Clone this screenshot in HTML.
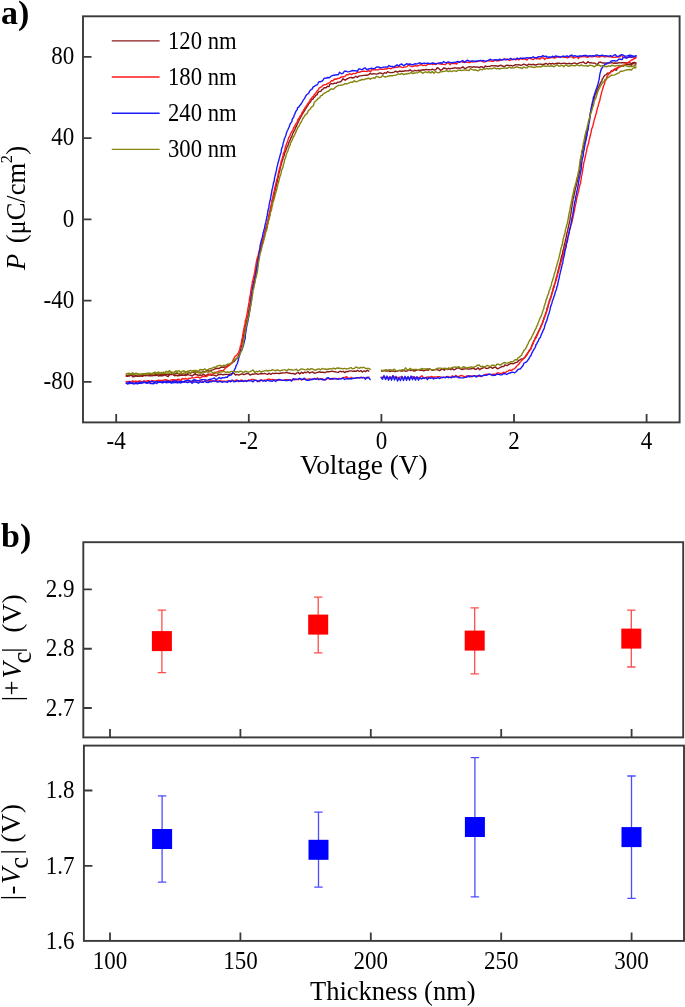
<!DOCTYPE html>
<html><head><meta charset="utf-8"><style>
html,body{margin:0;padding:0;background:#fff;}
svg{display:block;will-change:transform;}
.tl{font-family:"Liberation Serif",serif;font-size:24px;fill:#000;}
.al{font-family:"Liberation Serif",serif;font-size:26.5px;fill:#000;white-space:pre;}
.pl{font-family:"Liberation Serif",serif;font-size:34px;font-weight:bold;fill:#000;}
</style></head><body>
<svg width="685" height="1007" viewBox="0 0 685 1007">
<rect x="0" y="0" width="685" height="1007" fill="#fff"/>
<rect x="83.00" y="16.30" width="596.60" height="406.10" fill="none" stroke="#3a3a3a" stroke-width="1.90"/>
<text transform="translate(74.30,64.10) scale(0.960,1.040)" class="tl" text-anchor="end">80</text>
<text transform="translate(74.30,145.35) scale(0.960,1.040)" class="tl" text-anchor="end">40</text>
<text transform="translate(74.30,226.60) scale(0.960,1.040)" class="tl" text-anchor="end">0</text>
<text transform="translate(74.30,307.85) scale(0.960,1.040)" class="tl" text-anchor="end">-40</text>
<text transform="translate(74.30,389.10) scale(0.960,1.040)" class="tl" text-anchor="end">-80</text>
<text transform="translate(116.20,449.10) scale(0.960,1.040)" class="tl" text-anchor="middle">-4</text>
<text transform="translate(248.80,449.10) scale(0.960,1.040)" class="tl" text-anchor="middle">-2</text>
<text transform="translate(381.40,449.10) scale(0.960,1.040)" class="tl" text-anchor="middle">0</text>
<text transform="translate(514.00,449.10) scale(0.960,1.040)" class="tl" text-anchor="middle">2</text>
<text transform="translate(646.60,449.10) scale(0.960,1.040)" class="tl" text-anchor="middle">4</text>
<path d="M83.00,56.90H91.50M83.00,138.15H91.50M83.00,219.40H91.50M83.00,300.65H91.50M83.00,381.90H91.50M116.20,422.40V413.90M248.80,422.40V413.90M381.40,422.40V413.90M514.00,422.40V413.90M646.60,422.40V413.90" stroke="#3a3a3a" stroke-width="1.80" fill="none"/>
<text transform="translate(300.00,473.80) scale(1.030,1.000)" class="al" text-anchor="start">Voltage (V)</text>
<text transform="translate(24.70,261.90) rotate(-90) scale(1.000,1)" class="al" text-anchor="middle" style="font-size:26.5px;font-style:italic">P</text>
<text transform="translate(24.70,203.15) rotate(-90) scale(1.000,1)" class="al" text-anchor="middle" style="font-size:26.5px;">(μC/cm</text>
<text transform="translate(12.20,159.00) rotate(-90) scale(1.000,1)" class="al" text-anchor="middle" style="font-size:16.5px;">2</text>
<text transform="translate(24.70,150.45) rotate(-90) scale(1.000,1)" class="al" text-anchor="middle" style="font-size:26.5px;">)</text>
<text transform="translate(1.00,23.50) scale(1.000,1.000)" class="pl" text-anchor="start">a)</text>
<text transform="translate(1.00,546.50) scale(1.000,1.000)" class="pl" text-anchor="start">b)</text>
<path d="M111.8,40.85H159.6" stroke="#8a1a1a" stroke-width="1.4"/>
<text transform="translate(168.00,48.75) scale(0.945,1.040)" class="tl" text-anchor="start">120 nm</text>
<path d="M111.8,77.00H159.6" stroke="#ff1a1a" stroke-width="1.4"/>
<text transform="translate(168.00,84.90) scale(0.945,1.040)" class="tl" text-anchor="start">180 nm</text>
<path d="M111.8,113.30H159.6" stroke="#1a1aff" stroke-width="1.4"/>
<text transform="translate(168.00,121.20) scale(0.945,1.040)" class="tl" text-anchor="start">240 nm</text>
<path d="M111.8,149.40H159.6" stroke="#84840f" stroke-width="1.4"/>
<text transform="translate(168.00,157.30) scale(0.945,1.040)" class="tl" text-anchor="start">300 nm</text>
<g fill="none" stroke-width="1.4" stroke-linejoin="round" stroke-linecap="round">
<path d="M636.0,63.0L634.4,62.5L632.8,62.8L631.2,63.7L629.6,62.5L628.0,62.7L626.4,63.3L624.8,62.6L623.2,62.8L621.6,62.8L620.0,62.9L618.4,62.6L616.8,63.3L615.2,63.0L613.5,63.2L611.9,62.6L610.3,62.9L608.7,63.0L607.1,63.3L605.5,63.0L603.9,62.9L602.3,63.0L600.7,62.1L599.1,62.3L597.5,64.3L595.9,63.9L594.3,63.0L592.7,63.1L591.1,62.8L589.5,62.8L587.9,61.7L586.3,63.5L584.7,63.1L583.1,61.8L581.5,62.6L579.9,62.6L578.3,63.3L576.7,64.0L575.1,63.0L573.5,63.1L571.9,63.8L570.3,63.6L568.7,63.3L567.1,63.8L565.4,63.4L563.8,63.3L562.2,63.4L560.6,63.7L559.0,63.2L557.4,63.1L555.8,63.4L554.2,64.1L552.6,63.3L551.0,64.0L549.4,63.3L547.8,64.5L546.2,63.4L544.6,64.0L543.0,64.7L541.4,64.3L539.8,64.1L538.2,64.1L536.6,64.8L535.0,65.0L533.4,64.3L531.8,64.7L530.2,64.4L528.6,64.2L527.0,65.6L525.4,64.6L523.7,64.1L522.2,65.0L520.6,65.4L518.9,64.6L517.4,64.9L515.7,64.6L514.2,65.4L512.6,66.1L511.0,65.4L509.4,65.7L507.7,65.1L506.1,65.4L504.6,66.5L503.0,66.3L501.3,65.3L499.7,65.5L498.2,66.3L496.5,66.0L494.9,65.8L493.3,65.9L491.7,65.7L490.1,66.2L488.5,66.4L486.9,66.6L485.3,66.0L483.8,67.9L482.1,66.8L480.5,66.8L479.0,67.7L477.3,66.8L475.7,67.4L474.1,66.7L472.5,67.3L470.9,66.9L469.3,66.7L467.7,67.3L466.1,68.1L464.6,68.5L462.9,66.8L461.3,67.9L459.7,68.3L458.1,67.9L456.5,68.2L454.9,67.7L453.3,68.3L451.7,68.4L450.1,68.8L448.5,68.3L446.9,69.2L445.3,68.3L443.6,68.0L442.1,69.7L440.6,70.3L438.9,68.7L437.2,67.7L435.7,69.8L434.1,70.0L432.5,69.1L430.9,69.9L429.3,69.8L427.7,69.8L426.1,69.4L424.5,70.0L422.9,69.8L421.3,70.1L419.7,70.5L418.1,70.3L416.5,70.8L414.9,70.3L413.3,71.1L411.7,71.1L410.0,69.8L408.5,70.8L406.9,70.9L405.2,70.7L403.7,71.3L402.1,71.3L400.4,71.1L398.9,71.3L397.3,72.2L395.6,71.2L394.1,72.1L392.5,72.5L390.9,72.6L389.3,72.5L387.6,71.6L386.2,73.2L384.5,72.7L383.0,74.1L381.3,73.2L379.7,72.9L378.1,73.7L376.6,74.1L374.9,73.9L373.3,73.8L371.7,74.1L370.0,73.5L368.6,74.7L367.0,75.3L365.4,75.3L363.8,75.4L362.2,75.6L360.6,75.9L359.0,76.0L357.6,77.3L355.8,76.3L354.4,77.3L352.9,78.0L351.1,77.5L349.5,77.6L348.1,78.5L346.6,79.1L345.2,80.2L343.1,78.8L341.9,80.3L340.7,81.7L339.1,82.1L337.5,82.2L336.2,83.4L334.4,83.1L333.0,83.9L331.2,83.6L329.7,84.4L329.1,86.6L327.1,86.3L326.1,87.8L324.1,87.7L323.1,89.0L321.7,89.9L320.8,91.3L319.0,91.6L317.8,92.7L317.3,94.6L315.8,95.4L315.0,96.7L313.7,97.8L312.9,99.2L311.2,99.9L310.8,101.6L309.7,102.8L308.6,103.9L307.9,105.4L306.9,106.7L306.1,108.1L305.2,109.4L304.5,110.9L303.6,112.2L302.7,113.5L302.0,114.9L301.2,116.3L300.5,117.8L299.6,119.1L299.0,120.6L298.3,122.0L297.6,123.5L296.9,125.0L296.3,126.5L295.4,127.8L295.0,129.3L294.2,130.8L293.4,132.2L292.7,133.6L292.2,135.1L291.8,136.7L290.8,138.0L290.2,139.5L289.8,141.1L288.8,142.4L288.4,144.0L287.9,145.5L287.1,146.9L286.6,148.4L285.9,149.9L285.6,151.5L284.6,152.8L284.4,154.5L284.0,156.0L283.2,157.4L282.9,159.0L282.3,160.5L281.9,162.1L281.5,163.6L281.0,165.1L280.7,166.7L280.1,168.2L279.9,169.8L279.6,171.4L279.1,172.9L278.7,174.5L278.4,176.1L278.1,177.6L277.6,179.2L277.5,180.8L277.1,182.3L276.6,183.9L276.4,185.5L275.9,187.0L275.5,188.6L275.1,190.1L274.9,191.7L274.5,193.3L274.1,194.8L274.0,196.5L273.1,197.9L273.2,199.6L272.8,201.1L272.3,202.7L272.1,204.2L271.9,205.8L271.3,207.4L271.0,208.9L270.7,210.5L270.4,212.1L269.9,213.6L269.7,215.2L269.2,216.7L268.8,218.3L268.6,219.9L268.3,221.5L267.7,223.0L267.4,224.6L266.8,226.1L266.5,227.6L266.1,229.2L265.7,230.7L265.3,232.3L265.0,233.9L264.4,235.4L263.8,236.9L263.6,238.5L263.2,240.0L262.7,241.6L262.3,243.1L261.9,244.7L261.4,246.2L261.0,247.7L260.4,249.2L260.1,250.8L259.6,252.4L259.1,253.9L258.9,255.5L258.3,257.0L258.1,258.6L257.8,260.2L257.5,261.7L257.1,263.3L257.0,264.9L256.5,266.4L256.4,268.0L255.8,269.6L255.7,271.2L255.4,272.8L255.2,274.3L254.8,275.9L254.5,277.5L254.3,279.1L254.0,280.6L253.6,282.2L253.4,283.8L252.9,285.3L252.6,286.9L252.5,288.5L252.1,290.1L252.0,291.7L251.6,293.3L251.4,294.9L251.1,296.4L250.8,298.0L250.9,299.6L250.4,301.2L250.3,302.8L249.9,304.4L249.8,306.0L249.5,307.5L249.1,309.1L248.8,310.7L248.5,312.3L248.3,313.8L248.0,315.4L247.5,316.9L247.2,318.5L247.0,320.1L246.4,321.6L246.1,323.2L245.7,324.8L245.5,326.4L245.0,327.9L244.9,329.5L244.4,331.1L244.2,332.6L243.8,334.2L243.5,335.8L243.3,337.4L243.0,338.9L242.7,340.5L242.2,342.1L242.0,343.6L241.8,345.3L241.3,346.8L240.9,348.3L240.4,349.9L240.4,351.5L239.8,353.0L238.9,354.4L238.6,356.0L237.7,357.4L236.5,358.5L235.4,359.6L234.6,361.1L233.2,362.0L232.1,363.1L230.5,363.6L229.4,364.9L227.8,365.3L226.7,366.8L225.1,367.0L223.5,367.3L221.8,367.0L220.3,367.6L218.9,368.6L217.2,368.3L215.6,368.6L214.1,369.4L212.6,369.9L211.0,370.2L209.6,371.3L207.8,370.7L206.3,370.9L204.8,371.8L203.1,371.2L201.6,372.5L200.0,372.3L198.4,372.5L196.6,371.3L195.3,373.4L193.5,372.4L191.9,372.4L190.4,372.8L188.7,372.5L187.2,373.8L185.7,374.7L183.9,373.1L182.4,374.3L180.8,373.9L179.2,374.5L177.5,373.4L175.9,373.6L174.4,374.5L172.7,373.7L171.2,374.2L169.6,374.4L168.0,374.4L166.4,374.6L164.7,374.2L163.2,374.4L161.6,374.9L159.9,374.2L158.4,375.1L156.7,374.7L155.1,374.7L153.5,374.2L152.0,375.3L150.3,374.1L148.7,375.1L147.1,375.3L145.5,375.6L143.9,375.0L142.3,375.4L140.7,376.1L139.1,376.1L137.5,375.9L135.9,376.0L134.3,375.1L132.7,375.0L131.1,375.3L129.5,375.7L127.9,376.2L126.3,376.0" stroke="#8a1a1a"/>
<path d="M126.3,376.0L127.9,375.7L129.5,375.7L131.1,374.6L132.7,376.9L134.3,376.5L135.9,375.7L137.6,376.3L139.2,376.0L140.8,375.5L142.4,376.3L144.0,375.6L145.6,375.5L147.2,375.3L148.8,375.9L150.4,375.6L152.0,375.9L153.6,375.3L155.2,375.6L156.8,375.1L158.4,376.0L160.0,375.6L161.6,375.7L163.2,375.7L164.8,374.9L166.5,375.8L168.1,376.5L169.7,374.5L171.3,374.4L172.9,374.5L174.5,375.8L176.1,375.3L177.7,375.8L179.3,375.6L180.9,375.3L182.5,375.3L184.1,375.1L185.7,375.6L187.3,374.5L188.9,374.9L190.6,375.2L192.2,376.0L193.8,374.6L195.4,374.4L197.0,374.7L198.6,375.5L200.2,374.8L201.8,375.6L203.4,373.9L205.0,375.5L206.6,375.4L208.2,374.0L209.8,374.9L211.4,375.4L213.0,374.8L214.7,375.3L216.3,376.0L217.9,374.8L219.5,374.5L221.1,374.2L222.7,374.9L224.3,374.5L225.9,374.4L227.5,374.4L229.1,374.8L230.7,373.9L232.3,373.6L233.9,373.1L235.5,375.0L237.1,374.4L238.8,375.1L240.4,374.3L242.0,373.8L243.6,374.5L245.2,374.2L246.8,373.5L248.4,373.6L250.0,375.1L251.6,374.3L253.2,374.3L254.8,373.9L256.4,373.6L258.0,374.4L259.6,373.9L261.2,373.5L262.8,373.8L264.4,373.3L266.1,373.9L267.7,374.3L269.3,373.2L270.9,374.4L272.5,373.2L274.1,373.7L275.7,373.1L277.3,373.4L278.9,373.5L280.5,373.2L282.1,373.0L283.7,372.9L285.3,372.8L286.9,372.4L288.5,373.0L290.1,373.3L291.8,373.6L293.4,373.4L295.0,374.3L296.6,373.1L298.2,372.6L299.8,373.9L301.4,372.2L303.0,373.3L304.6,372.2L306.2,372.8L307.8,371.5L309.4,373.0L311.0,372.4L312.6,371.9L314.3,373.3L315.8,372.8L317.4,372.3L319.0,371.8L320.7,372.2L322.3,372.1L323.9,372.5L325.5,372.5L327.1,371.6L328.7,371.7L330.3,371.6L331.9,371.1L333.5,371.5L335.1,371.7L336.7,372.1L338.3,372.4L339.9,371.2L341.5,371.9L343.1,371.3L344.8,372.6L346.3,371.4L348.0,371.7L349.5,370.9L351.2,370.9L352.8,371.4L354.4,371.0L356.0,371.4L357.6,370.3L359.2,371.5L360.8,370.6L362.4,372.0L364.0,370.9L365.6,371.6L367.2,370.2L368.8,371.2" stroke="#8a1a1a"/>
<path d="M381.7,371.2L383.3,370.5L384.9,370.8L386.5,371.1L388.1,370.0L389.7,371.6L391.3,371.0L392.9,370.9L394.5,371.6L396.1,371.4L397.7,371.1L399.3,370.4L401.0,371.0L402.6,371.0L404.1,370.3L405.8,371.3L407.4,370.9L408.9,369.5L410.6,370.6L412.2,369.8L413.8,371.1L415.4,370.8L417.0,369.7L418.6,369.8L420.2,370.3L421.8,370.0L423.5,370.9L425.1,370.4L426.6,369.8L428.3,370.2L429.8,368.8L431.5,370.0L433.1,370.2L434.7,369.6L436.3,369.3L437.9,369.9L439.5,370.6L441.1,369.6L442.7,368.8L444.3,370.2L445.9,368.3L447.5,369.5L449.1,368.9L450.7,369.7L452.3,368.7L454.0,369.8L455.5,369.2L457.1,368.1L458.7,367.9L460.4,368.8L462.0,369.6L463.6,369.0L465.2,368.9L466.8,368.7L468.4,369.2L470.0,368.9L471.6,368.8L473.2,368.1L474.8,369.2L476.4,369.2L478.0,367.7L479.7,369.7L481.3,368.7L482.8,368.0L484.4,367.2L486.1,368.5L487.7,368.4L489.2,367.7L490.8,366.9L492.5,368.4L494.0,367.4L495.6,367.3L497.5,368.9L499.0,368.2L500.5,367.4L502.0,366.4L503.7,366.6L504.9,364.8L506.7,365.6L508.2,364.8L509.6,364.1L511.1,363.4L513.0,363.9L514.4,363.1L515.9,362.5L517.5,362.1L518.6,360.7L520.0,359.9L521.3,359.0L522.9,358.7L524.5,358.1L525.4,356.7L526.6,355.6L527.1,354.0L528.1,352.7L528.8,351.3L529.5,349.9L530.8,348.7L531.3,347.2L531.8,345.6L532.4,344.1L533.2,342.7L533.6,341.1L534.6,339.8L535.0,338.2L535.9,336.9L536.5,335.4L537.4,334.0L538.0,332.5L538.6,331.1L539.4,329.7L540.0,328.2L540.7,326.7L541.3,325.3L542.1,323.8L542.6,322.3L543.0,320.7L543.7,319.3L544.0,317.7L544.9,316.3L545.3,314.7L545.6,313.1L546.3,311.7L546.9,310.2L546.9,308.5L547.6,307.1L548.1,305.5L548.4,303.9L548.9,302.4L549.3,300.9L550.0,299.4L550.4,297.8L551.2,296.4L551.4,294.8L552.0,293.3L552.4,291.7L552.9,290.2L553.2,288.6L553.5,287.0L554.1,285.5L554.7,284.0L555.2,282.5L555.5,280.9L555.9,279.3L556.2,277.8L556.8,276.3L557.2,274.7L557.4,273.1L557.9,271.6L558.2,270.0L558.8,268.5L559.1,266.9L559.4,265.3L559.9,263.8L560.3,262.2L560.6,260.6L560.9,259.1L561.3,257.5L561.6,255.9L562.2,254.4L562.8,252.9L562.7,251.2L563.3,249.7L563.7,248.2L563.9,246.6L564.4,245.0L564.6,243.4L565.2,241.9L565.4,240.3L565.8,238.8L566.2,237.2L566.4,235.6L566.7,234.0L567.1,232.5L567.6,230.9L567.9,229.4L568.2,227.8L568.5,226.2L568.9,224.6L569.3,223.1L569.5,221.5L570.0,219.9L570.1,218.3L570.3,216.7L570.5,215.1L571.0,213.6L571.1,212.0L571.4,210.4L571.6,208.8L571.9,207.2L572.1,205.6L572.2,204.0L572.6,202.5L572.9,200.9L573.0,199.3L573.6,197.8L573.9,196.2L574.2,194.6L574.5,193.0L574.9,191.5L575.1,189.9L575.6,188.3L575.9,186.8L576.4,185.2L576.7,183.6L577.1,182.1L577.6,180.5L577.7,178.9L578.3,177.4L578.4,175.8L578.7,174.2L579.3,172.7L579.6,171.1L579.9,169.5L579.9,167.9L580.2,166.3L580.3,164.7L580.5,163.1L580.6,161.5L580.9,159.9L581.0,158.3L581.3,156.8L581.6,155.2L582.1,153.6L582.2,152.0L582.6,150.5L583.0,148.9L583.5,147.4L583.7,145.8L584.1,144.2L584.3,142.6L584.9,141.1L585.1,139.5L585.6,138.0L585.8,136.4L586.1,134.8L586.4,133.2L586.7,131.6L587.1,130.1L587.6,128.5L587.9,127.0L588.0,125.3L588.6,123.8L588.8,122.2L589.0,120.6L589.4,119.1L589.7,117.5L589.9,115.9L590.1,114.3L590.6,112.8L590.9,111.2L591.0,109.5L591.6,108.0L592.0,106.5L592.2,104.9L592.7,103.3L593.1,101.8L593.4,100.2L594.0,98.7L594.7,97.2L594.8,95.6L595.6,94.2L596.2,92.7L596.7,91.1L597.3,89.7L597.8,88.1L598.6,86.7L599.4,85.3L600.1,83.9L600.6,82.3L601.9,81.2L602.1,79.5L603.0,78.1L603.8,76.7L604.7,75.4L606.3,74.7L607.2,73.3L608.9,73.1L610.3,72.4L611.3,70.8L613.2,70.9L614.3,69.5L616.4,70.3L617.3,68.4L618.7,67.5L620.0,66.5L621.7,66.2L623.3,66.0L624.8,65.3L626.3,64.7L627.9,64.6L629.6,64.5L631.3,65.2L632.7,63.4L634.4,63.9L636.0,64.1" stroke="#8a1a1a"/>
<path d="M636.0,57.0L634.4,58.4L632.8,56.8L631.2,57.3L629.6,57.2L628.0,57.1L626.4,58.1L624.8,57.1L623.2,57.4L621.6,55.1L620.0,56.8L618.4,57.1L616.8,57.0L615.1,57.2L613.5,57.4L611.9,57.0L610.3,56.5L608.7,56.9L607.1,56.3L605.5,56.9L603.9,56.8L602.3,55.9L600.7,56.5L599.1,57.0L597.5,56.9L595.9,56.5L594.3,55.7L592.7,56.9L591.1,56.9L589.5,56.2L587.9,57.3L586.3,57.0L584.7,56.3L583.1,56.5L581.5,56.8L579.9,56.5L578.3,58.5L576.7,56.4L575.1,57.5L573.5,58.0L571.8,56.9L570.2,56.7L568.7,57.4L567.1,57.8L565.4,57.3L563.8,57.3L562.2,56.6L560.6,57.0L559.0,57.4L557.4,56.9L555.8,57.7L554.2,58.2L552.6,57.4L551.0,57.5L549.4,58.0L547.8,58.3L546.2,57.8L544.7,59.4L543.0,57.7L541.4,57.9L539.8,59.1L538.2,58.3L536.6,58.9L535.0,58.0L533.4,59.6L531.8,59.1L530.2,58.3L528.6,58.1L527.0,60.0L525.4,59.2L523.8,58.8L522.2,59.4L520.5,58.3L519.0,59.9L517.4,59.1L515.8,60.0L514.1,58.7L512.6,59.6L511.0,59.8L509.4,60.6L507.7,58.9L506.1,59.5L504.5,59.5L502.9,59.4L501.3,59.9L499.8,60.6L498.2,60.8L496.6,60.9L494.9,59.8L493.4,61.4L491.8,61.0L490.2,61.0L488.5,60.8L486.9,60.7L485.4,61.8L483.8,62.1L482.1,61.3L480.5,60.7L478.9,61.1L477.3,61.5L475.8,61.9L474.1,61.6L472.6,62.0L470.9,61.6L469.4,62.6L467.7,62.2L466.1,62.4L464.5,62.1L462.9,62.4L461.2,61.3L459.7,61.9L458.1,62.1L456.6,64.1L455.0,63.3L453.4,63.5L451.7,63.0L450.2,64.7L448.5,62.9L446.9,63.0L445.4,64.5L443.8,64.4L442.2,64.4L440.5,64.0L438.9,63.8L437.3,63.2L435.7,64.5L434.1,64.1L432.5,64.5L430.9,63.7L429.3,64.4L427.7,64.2L426.2,65.6L424.5,65.2L423.0,65.7L421.3,64.5L419.7,65.1L418.2,65.8L416.6,66.0L414.9,65.6L413.4,66.3L411.8,66.6L410.1,65.9L408.4,65.0L407.0,66.6L405.4,66.9L403.8,67.4L402.2,67.6L400.5,66.7L398.9,66.7L397.4,67.3L395.7,67.3L394.2,67.6L392.6,67.7L391.1,68.8L389.4,68.4L387.8,68.3L386.3,69.0L384.6,69.0L383.1,69.4L381.5,69.3L379.8,68.9L378.3,69.8L376.7,69.9L375.0,69.6L373.4,69.9L371.8,69.6L370.5,71.9L368.7,70.5L367.2,71.5L365.5,71.4L363.9,71.2L362.3,71.4L360.7,71.7L359.2,72.4L357.5,72.0L356.1,73.3L354.5,73.6L352.9,73.5L351.5,74.6L349.6,73.7L348.2,74.7L346.5,74.6L345.3,76.1L343.8,76.8L342.2,77.0L340.6,77.2L339.3,78.4L337.6,78.5L336.2,79.2L334.4,79.0L333.3,80.7L331.5,80.6L330.4,82.0L329.0,82.9L327.6,83.5L326.3,84.4L324.6,84.7L323.0,85.3L321.9,86.5L320.5,87.4L319.1,88.2L318.3,89.7L317.2,90.9L316.3,92.2L315.6,93.7L314.1,94.6L313.7,96.2L312.2,97.2L311.4,98.5L310.2,99.7L309.5,101.2L308.8,102.6L307.6,103.7L306.9,105.2L306.0,106.5L305.0,107.8L304.2,109.2L303.4,110.5L302.7,112.0L301.7,113.3L301.3,114.9L300.1,116.1L299.5,117.6L298.4,118.8L297.6,120.2L297.4,121.9L296.3,123.1L295.5,124.5L294.9,126.0L293.9,127.3L293.3,128.8L292.8,130.3L291.8,131.6L291.0,133.0L290.3,134.5L289.8,136.0L288.9,137.3L288.3,138.8L287.9,140.4L287.3,141.9L286.7,143.4L286.3,144.9L285.5,146.4L285.2,148.0L284.9,149.5L284.4,151.1L283.9,152.6L283.2,154.0L283.0,155.7L282.6,157.2L282.1,158.7L281.7,160.3L281.0,161.8L280.9,163.4L280.4,164.9L280.1,166.5L279.6,168.0L279.4,169.6L278.7,171.1L278.5,172.7L278.1,174.3L277.9,175.9L277.5,177.4L277.0,178.9L276.6,180.5L276.2,182.1L275.8,183.6L275.5,185.2L275.2,186.8L274.7,188.3L274.4,189.9L274.1,191.5L273.7,193.0L273.3,194.6L273.0,196.1L272.8,197.7L272.3,199.3L271.8,200.8L271.7,202.4L271.4,204.0L271.0,205.6L270.5,207.1L270.5,208.7L269.9,210.2L269.5,211.8L269.4,213.4L268.8,214.9L268.5,216.5L268.3,218.1L267.9,219.6L267.7,221.2L267.3,222.8L266.7,224.3L266.6,225.9L265.9,227.4L265.7,229.0L265.2,230.5L264.8,232.1L264.7,233.7L264.0,235.2L263.5,236.7L263.2,238.3L262.8,239.9L262.1,241.3L261.8,242.9L261.4,244.5L260.8,246.0L260.2,247.5L259.9,249.0L259.3,250.5L258.8,252.0L258.5,253.6L258.2,255.2L257.8,256.8L257.2,258.3L256.8,259.8L256.5,261.4L256.2,263.0L256.0,264.6L255.7,266.1L255.4,267.7L255.1,269.3L254.9,270.9L254.7,272.5L254.2,274.0L254.0,275.6L253.6,277.2L253.2,278.7L252.9,280.3L252.3,281.8L252.2,283.4L252.0,285.0L251.6,286.6L251.3,288.2L251.1,289.8L250.7,291.3L250.6,292.9L250.5,294.5L249.9,296.1L249.8,297.7L249.4,299.2L249.3,300.8L249.1,302.4L248.6,304.0L248.6,305.6L248.2,307.2L247.9,308.7L247.7,310.3L247.4,311.9L247.1,313.5L246.7,315.0L246.6,316.6L246.1,318.2L245.8,319.8L245.2,321.3L245.2,322.9L244.9,324.5L244.4,326.0L244.2,327.6L243.8,329.2L243.5,330.7L243.1,332.3L243.0,333.9L242.6,335.5L242.6,337.1L242.1,338.7L241.6,340.2L241.5,341.8L241.2,343.4L240.9,344.9L240.3,346.5L240.0,348.0L239.8,349.6L239.1,351.1L238.5,352.6L237.5,353.9L236.8,355.3L235.2,356.1L234.4,357.5L233.6,358.9L233.0,360.4L232.4,361.9L231.4,363.1L230.5,364.5L229.1,365.3L228.0,366.4L226.5,367.2L225.3,368.2L224.2,369.4L223.1,370.9L221.2,370.6L219.6,370.9L218.2,371.7L216.6,372.1L215.3,373.1L213.8,373.6L212.4,374.4L210.5,373.9L209.1,374.9L207.7,375.7L206.3,376.6L204.6,376.6L202.9,376.2L201.4,377.1L200.0,378.0L198.2,377.1L196.7,377.2L195.1,377.6L193.5,377.9L191.9,377.8L190.3,378.4L188.7,378.4L187.2,379.5L185.5,378.4L184.0,379.2L182.3,378.4L180.9,380.8L179.2,379.4L177.6,379.3L176.0,380.1L174.4,379.8L172.8,379.7L171.2,379.9L169.6,380.6L168.0,380.4L166.3,379.8L164.7,379.8L163.2,380.5L161.6,380.5L160.0,380.5L158.3,380.1L156.8,381.3L155.2,381.5L153.5,380.8L152.0,381.5L150.4,381.3L148.7,381.0L147.1,380.8L145.6,381.7L143.9,380.7L142.4,382.2L140.7,381.0L139.2,382.2L137.5,382.1L135.9,381.1L134.3,381.7L132.7,382.0L131.1,381.9L129.5,381.4L127.9,381.8L126.3,381.8" stroke="#ff1a1a"/>
<path d="M126.3,381.8L127.9,381.7L129.5,382.7L131.1,382.1L132.7,380.8L134.3,381.7L135.9,381.4L137.5,381.8L139.1,380.8L140.8,381.8L142.4,381.8L144.0,382.5L145.6,381.8L147.2,381.9L148.8,380.7L150.4,382.8L152.0,380.5L153.6,382.1L155.2,381.3L156.8,381.0L158.4,381.1L160.0,381.1L161.7,381.7L163.3,381.4L164.9,382.2L166.5,380.4L168.1,381.4L169.7,380.9L171.3,381.8L172.9,380.2L174.5,381.1L176.1,381.4L177.7,380.5L179.3,381.8L180.9,381.4L182.5,381.8L184.1,381.8L185.7,380.7L187.4,380.8L189.0,381.1L190.6,381.6L192.2,381.6L193.8,380.8L195.4,380.8L197.0,380.7L198.6,380.8L200.2,381.0L201.8,381.0L203.4,382.2L205.0,380.8L206.6,380.9L208.2,381.3L209.8,380.5L211.5,380.8L213.1,381.0L214.7,381.4L216.3,380.2L217.9,381.7L219.5,380.7L221.1,381.0L222.7,381.3L224.3,381.2L225.9,381.4L227.5,380.9L229.1,380.8L230.7,380.9L232.3,380.2L234.0,381.4L235.6,380.3L237.2,380.0L238.8,381.8L240.4,380.5L242.0,379.9L243.6,381.6L245.2,380.4L246.8,381.1L248.4,380.0L250.0,380.3L251.6,379.5L253.2,379.4L254.8,379.9L256.4,380.3L258.1,380.8L259.7,381.6L261.3,379.7L262.9,380.8L264.5,379.9L266.1,380.1L267.7,379.3L269.3,379.3L270.9,379.7L272.5,379.4L274.1,380.0L275.7,379.6L277.3,380.6L278.9,380.0L280.5,379.9L282.2,380.4L283.8,380.1L285.4,379.7L287.0,379.6L288.6,379.6L290.2,380.2L291.8,380.0L293.4,379.7L295.0,379.9L296.6,379.1L298.2,379.7L299.8,378.6L301.4,380.1L303.0,379.3L304.6,379.3L306.3,379.5L307.9,379.1L309.5,379.0L311.1,379.7L312.7,379.1L314.3,378.5L315.9,379.2L317.5,377.9L319.1,379.7L320.7,378.7L322.3,378.8L323.9,379.9L325.6,379.8L327.1,378.7L328.7,378.9L330.4,379.1L332.0,379.4L333.5,378.3L335.2,378.4L336.8,379.0L338.4,378.4L340.0,378.6L341.6,378.5L343.2,377.5L344.8,377.6L346.4,376.6L348.0,377.9L349.6,378.7L351.2,377.3L352.8,378.6L354.4,378.4L356.0,377.8L357.6,377.8L359.3,377.8L360.8,377.2L362.5,377.5L364.1,377.6L365.7,377.9L367.3,378.0L368.9,377.1" stroke="#ff1a1a"/>
<path d="M381.7,377.2L383.3,377.1L385.0,377.4L386.6,378.0L388.2,377.4L389.8,378.5L391.4,377.6L393.0,375.8L394.6,377.2L396.2,378.4L397.8,377.4L399.4,377.2L401.0,376.9L402.6,378.1L404.2,378.0L405.8,377.8L407.5,377.6L409.1,378.2L410.7,377.8L412.3,376.7L413.9,377.8L415.5,377.4L417.1,377.3L418.7,377.7L420.3,377.3L421.9,375.7L423.5,378.1L425.1,377.8L426.7,377.2L428.3,377.0L429.9,377.3L431.5,376.5L433.2,377.3L434.8,377.0L436.4,376.9L438.0,376.6L439.6,376.7L441.2,377.6L442.8,377.7L444.4,377.2L446.0,376.9L447.6,376.4L449.2,377.2L450.9,377.7L452.4,375.8L454.1,377.3L455.6,375.4L457.2,376.4L458.9,376.7L460.4,375.7L462.0,375.5L463.7,376.4L465.3,376.7L466.9,375.9L468.5,376.8L470.1,375.6L471.8,376.9L473.3,375.9L474.9,375.9L476.5,376.0L478.1,375.7L479.8,376.4L481.4,376.5L483.0,375.5L484.5,375.0L486.1,374.3L487.7,374.3L489.3,374.6L490.9,374.4L492.5,374.3L494.1,374.1L495.8,374.2L497.2,373.0L498.8,372.9L500.6,373.7L502.1,373.3L503.6,372.2L505.3,372.8L506.6,371.4L508.2,371.1L509.5,369.9L511.4,370.5L512.7,369.4L514.3,368.8L515.5,367.7L516.5,366.4L517.6,365.2L518.9,364.2L519.7,362.8L520.8,361.6L521.8,360.4L523.0,359.3L524.0,358.0L525.2,356.9L525.8,355.3L527.1,354.3L527.7,352.8L529.0,351.7L529.8,350.3L530.9,349.1L531.4,347.5L531.9,346.0L532.7,344.6L533.3,343.1L533.8,341.6L534.5,340.1L535.1,338.6L536.4,337.5L536.8,335.9L537.6,334.5L538.0,332.9L538.8,331.5L539.6,330.1L540.2,328.6L540.9,327.1L541.3,325.6L542.1,324.1L542.8,322.7L543.0,321.1L543.8,319.6L544.1,318.0L544.8,316.6L545.3,315.1L546.0,313.6L546.2,312.0L546.9,310.5L547.5,309.0L547.7,307.4L548.3,305.9L548.6,304.3L549.0,302.8L549.6,301.3L550.1,299.7L550.8,298.3L551.1,296.7L551.6,295.2L552.0,293.6L552.4,292.0L553.0,290.5L553.1,288.9L554.1,287.5L554.3,285.9L554.7,284.3L555.2,282.8L555.8,281.3L556.3,279.8L556.5,278.2L557.1,276.7L557.5,275.1L557.8,273.5L558.4,272.0L558.8,270.5L559.0,268.9L559.8,267.4L559.9,265.8L560.5,264.3L560.8,262.7L561.3,261.2L561.7,259.6L562.3,258.1L562.5,256.5L563.0,255.0L563.7,253.5L563.8,251.8L564.3,250.3L564.8,248.8L565.0,247.2L565.6,245.7L565.9,244.1L566.4,242.6L566.7,241.0L567.0,239.4L567.7,237.9L568.0,236.3L568.4,234.8L568.7,233.2L569.2,231.7L569.7,230.1L570.1,228.6L570.6,227.1L570.8,225.4L571.3,223.9L571.9,222.4L572.1,220.8L572.5,219.2L573.0,217.7L573.2,216.1L573.6,214.5L573.8,213.0L574.3,211.4L574.6,209.8L574.7,208.2L575.2,206.7L575.3,205.1L575.9,203.5L576.2,201.9L576.4,200.4L576.7,198.8L576.9,197.2L577.6,195.7L577.8,194.1L578.2,192.5L578.6,191.0L578.9,189.4L579.2,187.8L579.6,186.3L579.9,184.7L580.6,183.2L580.7,181.6L581.0,180.0L581.4,178.4L581.3,176.8L581.8,175.2L582.1,173.7L582.3,172.0L582.7,170.5L582.7,168.9L583.2,167.3L583.5,165.7L583.5,164.1L583.9,162.5L584.4,161.0L584.7,159.4L585.0,157.8L585.4,156.3L585.8,154.7L586.0,153.1L586.5,151.6L586.7,150.0L587.0,148.4L587.3,146.8L588.0,145.4L588.3,143.8L588.9,142.3L588.9,140.6L589.4,139.1L589.8,137.5L590.2,136.0L590.6,134.4L591.0,132.8L591.3,131.3L591.5,129.7L592.0,128.1L592.7,126.7L593.0,125.1L593.5,123.5L593.7,121.9L594.2,120.4L594.5,118.8L595.1,117.3L595.5,115.7L595.9,114.2L596.5,112.7L596.6,111.1L597.2,109.6L597.4,108.0L598.1,106.5L598.4,104.9L598.9,103.3L599.3,101.8L599.9,100.3L600.1,98.7L600.5,97.1L600.8,95.6L601.4,94.0L601.6,92.4L602.1,90.9L602.5,89.4L603.1,87.8L603.4,86.3L604.1,84.8L604.7,83.3L604.8,81.7L605.7,80.3L606.5,78.8L606.7,77.2L607.7,75.9L608.2,74.3L609.7,73.4L610.7,72.1L612.1,71.3L613.1,70.0L614.5,69.1L616.0,68.5L617.4,67.6L618.9,67.0L620.4,66.5L621.7,65.5L623.3,65.1L624.9,64.7L625.8,62.8L627.7,63.1L628.9,62.0L630.2,61.0L631.5,60.2L633.0,59.5L634.4,58.7L636.0,58.2" stroke="#ff1a1a"/>
<path d="M636.0,55.8L634.4,56.6L632.8,55.9L631.2,55.5L629.6,55.1L628.0,55.7L626.4,56.1L624.8,56.2L623.2,55.2L621.6,54.7L619.9,55.5L618.3,56.4L616.7,56.2L615.1,54.6L613.5,55.5L611.9,56.6L610.3,55.6L608.7,56.2L607.1,55.9L605.5,55.8L603.9,55.9L602.3,55.1L600.7,55.5L599.1,55.8L597.5,55.2L595.9,54.9L594.3,56.4L592.7,55.6L591.0,56.0L589.4,55.6L587.8,56.3L586.2,55.5L584.6,55.5L583.0,55.7L581.4,56.2L579.8,55.8L578.2,56.3L576.6,56.5L575.0,55.6L573.4,56.4L571.8,55.1L570.2,55.4L568.6,57.1L567.0,55.8L565.4,56.7L563.8,56.1L562.2,56.2L560.6,57.4L559.0,56.5L557.3,56.5L555.7,55.9L554.2,57.2L552.5,56.2L551.0,57.3L549.3,57.0L547.7,57.3L546.1,56.1L544.5,56.7L542.8,55.6L541.3,56.8L539.7,56.8L538.1,56.8L536.5,57.8L534.9,57.6L533.2,56.8L531.7,57.9L530.1,57.7L528.5,57.9L526.9,57.6L525.3,58.3L523.7,58.2L522.1,58.1L520.5,58.2L518.9,58.9L517.2,58.0L515.7,59.3L514.1,59.4L512.5,59.5L510.8,58.3L509.3,59.1L507.7,59.6L506.1,59.8L504.4,58.9L502.9,59.9L501.3,60.1L499.6,59.1L498.1,60.2L496.4,59.8L494.8,59.7L493.2,60.1L491.6,59.9L490.0,59.2L488.4,60.4L486.8,60.9L485.3,61.4L483.6,60.5L482.0,60.7L480.4,60.4L478.8,60.9L477.2,61.0L475.6,61.2L474.0,61.2L472.4,60.9L470.8,61.3L469.2,61.1L467.5,60.2L465.9,61.1L464.4,62.4L462.7,60.5L461.1,61.5L459.6,62.3L457.9,61.3L456.3,62.0L454.8,62.4L453.2,62.5L451.6,62.8L449.9,62.3L448.3,61.8L446.7,62.7L445.1,62.4L443.5,61.6L442.0,63.5L440.3,62.7L438.7,63.2L437.1,63.7L435.5,63.7L433.9,63.2L432.3,63.0L430.7,63.7L429.1,63.4L427.5,63.1L425.9,63.4L424.3,63.1L422.7,63.5L421.1,63.5L419.4,62.8L417.8,63.6L416.3,64.0L414.6,63.7L413.1,64.8L411.5,64.5L409.8,64.0L408.2,64.2L406.6,63.8L405.0,64.8L403.5,65.8L401.7,64.0L400.2,64.6L398.7,66.1L397.0,64.8L395.5,65.8L394.0,67.1L392.3,66.4L390.7,66.6L389.0,65.5L387.5,67.1L385.9,66.9L384.3,67.1L382.7,67.3L381.1,67.8L379.5,67.3L377.8,66.9L376.3,67.3L374.8,68.4L373.2,68.7L371.5,68.2L370.0,68.8L368.4,69.0L366.8,69.8L365.0,67.8L363.5,68.6L362.0,69.9L360.3,69.0L358.6,69.0L357.4,71.4L355.6,70.6L354.0,70.8L352.4,70.5L350.9,71.2L349.3,71.6L347.7,71.9L345.9,71.1L344.3,71.3L343.1,73.2L341.6,73.8L339.5,72.2L338.5,74.6L336.9,74.8L335.3,75.0L333.7,75.3L332.1,75.6L330.7,76.5L329.4,77.7L327.6,77.5L326.2,78.2L324.3,78.1L323.3,79.7L322.2,81.0L320.8,81.7L318.9,81.7L318.1,83.3L317.2,84.8L315.6,85.4L314.3,86.3L312.9,87.2L312.3,88.9L310.9,89.7L309.8,90.9L309.1,92.5L308.1,93.7L306.7,94.7L305.8,96.0L305.1,97.4L304.3,98.9L303.2,100.1L302.6,101.6L301.7,102.9L300.9,104.3L299.8,105.5L298.9,106.9L297.5,107.9L297.3,109.6L296.2,110.8L295.4,112.3L295.0,113.8L294.1,115.2L293.9,116.9L292.9,118.2L292.1,119.6L292.0,121.3L291.1,122.6L290.1,124.0L289.6,125.5L289.1,127.0L288.4,128.5L287.8,130.0L287.0,131.4L286.5,132.9L286.1,134.5L285.6,136.0L285.0,137.5L284.3,138.9L284.0,140.5L283.5,142.1L283.1,143.6L282.8,145.2L282.4,146.7L281.8,148.3L281.4,149.8L281.2,151.4L280.9,153.0L280.3,154.5L279.9,156.1L279.5,157.6L279.1,159.2L278.7,160.7L278.3,162.3L277.8,163.8L277.5,165.4L277.0,166.9L276.7,168.5L276.5,170.1L276.1,171.7L275.7,173.2L275.4,174.8L275.0,176.3L274.5,177.9L274.4,179.5L274.2,181.1L273.5,182.6L273.3,184.2L272.9,185.7L272.8,187.4L272.2,188.9L271.9,190.5L271.7,192.1L271.4,193.6L271.1,195.2L270.8,196.8L270.5,198.4L270.3,200.0L269.7,201.5L269.5,203.1L269.2,204.7L268.9,206.2L268.9,207.9L268.2,209.4L268.0,211.0L267.7,212.5L267.4,214.1L267.2,215.7L266.7,217.2L266.5,218.9L266.2,220.4L265.9,222.0L265.4,223.6L265.0,225.1L264.8,226.7L264.6,228.3L263.9,229.8L263.8,231.4L263.1,232.9L262.9,234.5L262.6,236.1L262.2,237.6L261.7,239.2L261.3,240.7L261.0,242.3L260.6,243.8L260.1,245.4L260.1,247.0L259.9,248.6L259.7,250.2L259.5,251.8L259.2,253.4L259.0,255.0L258.8,256.6L258.4,258.1L258.5,259.8L258.1,261.3L257.6,262.9L257.4,264.5L257.2,266.1L257.0,267.7L256.6,269.2L256.5,270.8L256.2,272.4L256.1,274.0L255.6,275.6L255.3,277.2L255.0,278.7L254.7,280.3L254.2,281.8L253.9,283.4L253.5,285.0L253.4,286.6L253.0,288.1L252.5,289.7L252.4,291.3L252.0,292.9L251.8,294.5L251.6,296.1L251.4,297.7L251.4,299.3L251.1,300.9L250.9,302.4L250.8,304.1L250.5,305.6L250.4,307.2L250.2,308.8L249.8,310.4L249.5,312.0L249.3,313.6L249.1,315.2L248.7,316.7L248.4,318.3L248.1,319.9L247.8,321.4L247.5,323.0L247.1,324.6L246.8,326.2L246.5,327.7L246.3,329.3L246.1,330.9L245.7,332.5L245.5,334.1L245.3,335.7L245.3,337.3L245.1,338.9L244.5,340.4L244.2,342.0L243.8,343.6L243.5,345.1L243.0,346.7L242.4,348.2L241.9,349.7L240.8,351.0L240.5,352.5L239.9,354.0L239.5,355.6L239.0,357.1L238.5,358.7L238.3,360.3L237.8,361.8L237.4,363.3L236.7,364.8L235.9,366.2L235.6,367.8L234.7,369.2L234.0,370.6L233.2,371.9L232.2,373.2L231.5,374.8L229.9,375.4L228.3,375.7L227.3,377.3L225.6,377.3L224.1,377.9L222.4,377.6L220.9,378.6L219.1,377.4L217.7,378.8L216.2,379.7L214.3,378.0L212.8,378.7L211.3,379.2L209.7,379.3L208.1,380.0L206.5,380.1L204.9,379.6L203.3,379.6L201.7,379.7L200.1,380.2L198.5,380.7L196.9,380.7L195.3,380.0L193.6,379.8L192.1,381.0L190.5,381.1L188.8,380.2L187.3,380.6L185.6,380.6L184.1,381.9L182.5,381.4L180.9,381.6L179.2,381.2L177.7,382.4L176.0,380.7L174.4,381.4L172.8,381.3L171.3,382.4L169.6,381.7L168.0,381.0L166.5,382.8L164.8,381.7L163.2,381.5L161.6,382.4L160.0,381.6L158.4,382.3L156.8,381.4L155.2,381.9L153.6,382.2L151.9,381.1L150.4,381.9L148.7,381.7L147.2,383.2L145.6,382.9L143.9,382.1L142.3,382.1L140.7,382.7L139.1,382.3L137.6,383.5L135.9,382.7L134.3,383.6L132.7,382.8L131.1,383.3L129.5,383.5L127.9,383.1L126.3,383.2" stroke="#1a1aff"/>
<path d="M126.3,383.2L127.9,384.2L129.5,381.6L131.1,383.0L132.7,383.7L134.3,383.9L135.9,383.4L137.6,383.9L139.1,383.2L140.8,383.3L142.4,383.0L143.9,382.3L145.6,382.4L147.2,383.1L148.8,382.5L150.4,383.6L152.0,383.6L153.6,383.8L155.2,382.7L156.8,383.5L158.4,382.1L160.0,382.2L161.6,382.7L163.2,382.8L164.8,381.6L166.4,381.5L168.0,382.7L169.6,382.0L171.3,383.2L172.9,382.7L174.5,382.6L176.1,382.5L177.7,382.9L179.3,382.3L180.9,383.0L182.5,382.0L184.1,382.1L185.7,381.8L187.3,382.6L188.9,382.2L190.5,381.7L192.1,383.3L193.7,381.9L195.3,382.0L196.9,382.3L198.5,383.1L200.1,381.9L201.7,382.4L203.3,382.0L204.9,381.1L206.6,382.4L208.2,382.5L209.8,381.7L211.4,381.8L213.0,380.9L214.6,380.9L216.2,381.5L217.8,382.1L219.4,381.4L221.0,381.8L222.6,382.2L224.2,381.7L225.8,381.9L227.4,382.4L229.0,380.8L230.6,381.9L232.2,380.3L233.8,381.7L235.4,381.5L237.0,381.0L238.6,380.7L240.3,381.3L241.9,381.0L243.5,381.3L245.1,380.7L246.7,381.5L248.3,380.5L249.9,380.9L251.5,380.8L253.1,381.8L254.7,380.1L256.3,380.7L257.9,381.7L259.5,380.5L261.1,380.1L262.7,381.0L264.3,380.6L266.0,381.3L267.5,380.2L269.2,380.8L270.8,381.0L272.4,381.2L273.9,379.9L275.6,381.4L277.2,379.9L278.8,379.5L280.4,379.8L282.0,380.4L283.6,380.1L285.2,380.5L286.8,380.5L288.4,380.3L290.0,379.9L291.6,381.1L293.2,378.7L294.8,378.9L296.4,379.6L298.0,379.1L299.6,378.3L301.2,379.3L302.8,379.3L304.4,378.2L306.1,380.1L307.7,380.3L309.3,380.2L310.9,379.2L312.5,379.5L314.1,378.7L315.7,379.4L317.3,378.8L318.9,379.4L320.5,378.9L322.1,379.7L323.7,379.5L325.3,379.7L326.9,378.0L328.5,377.8L330.1,379.1L331.7,378.5L333.3,379.0L334.9,378.9L336.5,378.8L338.2,379.2L339.8,378.9L341.4,378.8L342.9,377.9L344.6,379.5L346.2,378.5L347.8,379.0L349.4,378.5L351.0,379.0L352.6,378.3L354.2,378.3L355.8,378.2L357.4,377.7L359.0,377.7L360.6,377.9L362.2,377.9L363.8,377.4L365.4,379.3L367.0,377.3L368.6,377.7L370.2,379.4" stroke="#1a1aff"/>
<path d="M381.0,377.4L382.5,379.2L384.0,375.6L385.5,379.6L387.0,376.1L388.5,380.2L390.0,376.6L391.5,380.2L393.0,375.8L394.5,380.0L396.0,376.3L397.5,381.0L399.0,377.9L400.5,380.6L402.0,376.3L403.5,380.5L405.0,376.3L406.5,380.4L408.0,376.5L409.5,380.3L411.0,376.0L412.5,379.8L414.0,376.6L415.5,380.1L417.0,376.8L418.5,380.2L420.0,377.4L421.5,379.1L423.0,377.9L424.5,378.5L426.0,377.5L427.5,379.6L429.0,377.6L430.5,378.4L432.0,377.6L433.5,379.0L435.0,378.1L436.5,378.4L438.0,377.6L439.5,378.6L441.0,377.5L442.5,377.2L444.0,377.3L445.5,377.8L447.0,376.6L448.5,377.7L450.0,377.1L451.5,377.7L453.0,376.9L454.5,376.7L456.0,376.5L457.5,377.0L459.0,377.8L460.2,377.9L461.8,377.9L463.4,377.8L465.0,377.4L466.6,377.3L468.1,375.7L469.8,376.8L471.3,376.2L472.9,376.2L474.5,375.6L476.2,377.0L477.8,376.2L479.3,375.2L481.0,376.2L482.6,375.8L484.1,375.1L485.8,375.4L487.3,375.0L488.9,374.0L490.5,374.4L492.2,375.5L493.8,375.3L495.4,375.2L496.9,374.2L498.6,374.4L500.2,374.7L501.8,374.9L503.3,373.8L504.9,373.5L506.7,374.5L508.1,373.6L509.7,373.0L511.2,372.5L512.7,372.2L514.7,372.8L516.1,371.8L517.1,370.5L518.2,369.3L520.1,369.0L521.2,367.8L522.2,366.5L523.2,365.3L523.7,363.5L525.0,362.5L526.7,361.9L527.5,360.5L528.6,359.3L529.3,357.9L530.1,356.5L531.1,355.2L531.6,353.6L532.4,352.2L533.1,350.8L533.9,349.4L534.8,348.1L535.6,346.7L535.8,345.0L536.8,343.7L537.4,342.2L538.4,340.9L538.8,339.3L539.9,338.0L540.6,336.6L541.2,335.1L541.7,333.6L542.5,332.2L543.0,330.6L543.8,329.2L544.4,327.7L544.6,326.1L545.2,324.6L545.8,323.1L546.2,321.6L547.0,320.1L547.3,318.5L547.8,317.0L548.1,315.4L548.9,314.0L549.2,312.4L549.7,310.9L550.1,309.3L550.3,307.7L550.8,306.2L551.3,304.7L551.9,303.2L552.2,301.6L552.8,300.1L553.3,298.6L553.8,297.1L554.4,295.6L554.9,294.0L555.1,292.4L555.7,290.9L556.5,289.5L556.6,287.8L557.2,286.4L557.7,284.8L557.8,283.2L558.3,281.6L558.5,280.0L559.1,278.5L559.3,276.9L559.6,275.4L560.0,273.8L560.4,272.2L560.7,270.7L561.2,269.1L561.5,267.6L561.8,266.0L562.3,264.4L562.8,262.9L562.9,261.3L563.2,259.7L563.5,258.1L564.0,256.6L564.3,255.0L564.6,253.5L564.8,251.8L565.2,250.3L565.5,248.7L566.1,247.2L566.3,245.6L566.4,244.0L567.0,242.5L567.4,240.9L567.8,239.4L567.7,237.7L568.3,236.2L568.7,234.6L569.1,233.1L569.3,231.5L569.5,229.9L570.0,228.3L570.3,226.8L570.7,225.2L571.1,223.6L571.3,222.0L571.7,220.5L571.8,218.9L572.1,217.3L572.5,215.7L572.8,214.2L573.0,212.6L573.4,211.0L573.6,209.4L573.7,207.8L574.1,206.2L574.3,204.6L574.5,203.1L574.8,201.5L575.4,199.9L575.6,198.4L575.6,196.7L576.2,195.2L576.5,193.6L576.7,192.0L577.1,190.5L577.6,188.9L577.7,187.3L578.0,185.7L578.4,184.2L578.5,182.6L578.8,181.0L579.1,179.4L579.5,177.9L579.9,176.3L580.1,174.7L580.3,173.1L580.8,171.6L581.0,170.0L581.3,168.4L581.4,166.8L581.5,165.2L581.7,163.6L581.9,162.0L582.0,160.4L582.3,158.8L582.8,157.3L583.3,155.7L583.4,154.1L583.4,152.5L583.8,150.9L584.3,149.4L584.3,147.7L584.7,146.2L585.0,144.6L585.3,143.0L585.6,141.5L586.1,139.9L586.3,138.3L586.6,136.8L587.1,135.2L587.2,133.6L587.3,132.0L587.9,130.5L588.3,128.9L588.4,127.3L588.7,125.7L588.7,124.1L589.0,122.5L589.5,121.0L589.7,119.4L589.9,117.8L590.0,116.2L590.2,114.6L590.4,113.0L590.7,111.4L591.1,109.8L591.2,108.2L591.5,106.6L591.9,105.1L592.2,103.5L592.5,101.9L592.9,100.4L593.2,98.8L593.4,97.2L594.1,95.7L594.5,94.2L595.0,92.6L595.6,91.2L596.0,89.6L596.8,88.2L597.1,86.6L597.7,85.1L598.1,83.5L598.4,82.0L598.9,80.4L599.2,78.8L599.5,77.2L599.6,75.6L599.9,74.1L600.3,72.5L600.8,71.0L601.1,69.3L602.1,68.0L602.9,66.6L604.0,65.4L605.1,64.2L606.8,63.8L608.1,62.9L609.7,62.6L610.9,61.1L612.5,60.8L614.1,60.6L615.9,61.2L617.5,60.7L618.6,59.1L620.4,59.3L622.1,59.6L623.2,57.5L624.9,57.6L626.6,58.1L628.1,57.4L629.6,56.2L631.4,57.4L632.9,56.9L634.5,56.4L636.0,55.8" stroke="#1a1aff"/>
<path d="M636.0,66.0L634.4,65.8L632.8,66.1L631.2,66.5L629.6,66.2L628.0,66.5L626.4,65.8L624.8,65.0L623.2,66.1L621.5,66.1L620.0,65.5L618.3,65.5L616.7,65.6L615.1,66.2L613.5,65.6L611.9,65.2L610.3,66.4L608.7,65.8L607.1,66.7L605.5,66.3L603.9,66.6L602.3,65.6L600.7,66.2L599.1,65.2L597.5,65.3L595.9,65.5L594.2,66.9L592.7,65.7L591.0,65.4L589.4,65.3L587.8,66.3L586.2,65.6L584.6,65.9L583.0,65.9L581.4,64.7L579.8,65.9L578.2,65.4L576.6,64.9L575.0,65.8L573.4,65.6L571.8,65.5L570.2,65.5L568.6,66.3L567.0,65.6L565.3,64.9L563.8,66.7L562.1,65.3L560.5,65.8L559.0,66.3L557.3,64.7L555.7,65.5L554.1,66.8L552.5,66.0L550.9,65.8L549.3,66.3L547.7,65.9L546.1,66.4L544.5,66.0L542.9,65.6L541.3,66.9L539.7,66.5L538.1,66.9L536.5,66.6L534.9,67.5L533.3,67.2L531.7,67.0L530.0,66.5L528.4,66.4L526.9,67.9L525.3,67.7L523.6,66.9L522.1,68.5L520.4,67.7L518.8,67.5L517.2,66.8L515.6,67.2L514.0,67.9L512.4,68.0L510.8,68.0L509.2,67.0L507.6,68.2L506.0,68.2L504.4,67.9L502.8,68.3L501.2,68.4L499.6,69.0L498.0,68.4L496.4,68.8L494.7,67.9L493.1,68.3L491.6,68.8L489.9,68.4L488.4,69.1L486.7,68.4L485.2,69.1L483.5,68.8L482.0,70.0L480.3,69.1L478.8,70.5L477.2,70.7L475.5,69.8L474.0,70.2L472.3,69.7L470.6,68.5L469.1,70.5L467.5,70.4L465.9,70.0L464.3,69.9L462.7,70.4L461.1,70.5L459.5,70.1L457.9,70.3L456.3,71.3L454.7,70.8L453.1,70.9L451.5,71.6L449.9,70.9L448.3,71.7L446.6,70.7L445.1,71.2L443.5,71.4L441.9,71.9L440.3,71.7L438.7,72.9L437.1,72.4L435.4,71.6L433.9,73.2L432.2,71.5L430.7,73.1L429.0,71.7L427.5,72.7L425.8,71.8L424.2,72.3L422.7,73.4L421.0,71.8L419.4,71.7L417.8,72.7L416.2,72.9L414.6,73.0L413.0,73.6L411.3,72.4L409.8,73.5L408.2,73.4L406.6,74.0L405.0,74.0L403.5,74.6L401.7,73.3L400.2,74.4L398.6,73.9L397.0,74.7L395.5,75.4L393.9,75.4L392.3,75.7L390.7,75.6L389.1,76.0L387.5,76.2L386.0,77.0L384.4,76.8L382.6,75.5L381.2,77.1L379.6,77.5L377.9,76.9L376.2,76.4L374.9,78.3L373.2,77.8L371.6,78.3L370.2,79.2L368.3,78.1L366.8,78.8L365.2,79.0L363.7,79.8L362.0,79.4L360.6,80.3L359.0,80.5L357.5,81.3L356.0,81.8L354.1,80.7L352.8,82.2L351.1,82.1L349.6,82.7L348.1,83.3L346.6,83.8L344.9,83.7L343.5,84.6L341.9,85.0L340.4,85.4L338.6,85.4L337.2,86.2L335.8,87.0L334.5,88.1L333.3,89.2L331.3,88.9L329.9,89.7L328.8,91.0L327.3,91.5L325.8,92.3L324.5,93.1L323.1,94.0L322.2,95.4L320.4,95.9L319.9,97.7L318.3,98.3L317.3,99.6L316.1,100.8L314.9,101.8L314.0,103.2L313.6,104.9L312.8,106.3L311.2,107.1L310.6,108.7L309.4,109.7L308.2,110.8L307.7,112.5L306.8,113.8L305.4,114.7L304.5,116.1L303.7,117.5L302.7,118.8L302.1,120.3L301.4,121.7L300.4,123.0L299.8,124.5L299.1,126.0L298.0,127.2L297.4,128.7L296.6,130.1L296.1,131.6L295.4,133.1L294.8,134.5L294.1,136.0L293.2,137.4L292.7,138.9L291.9,140.3L291.3,141.8L290.4,143.1L290.3,144.8L289.3,146.2L288.9,147.7L288.3,149.2L288.0,150.8L287.3,152.3L286.6,153.7L286.2,155.3L285.7,156.8L285.3,158.4L284.6,159.8L284.3,161.4L284.1,163.0L283.4,164.5L283.1,166.1L282.9,167.7L282.1,169.1L281.4,170.6L281.2,172.2L280.9,173.8L280.5,175.4L279.8,176.8L279.5,178.4L279.1,180.0L278.7,181.5L278.3,183.1L277.8,184.6L277.4,186.2L277.1,187.7L276.8,189.3L276.2,190.8L275.9,192.4L275.3,193.9L275.1,195.5L274.6,197.1L274.2,198.6L273.9,200.2L273.1,201.6L272.7,203.2L272.6,204.8L272.0,206.3L271.7,207.9L271.6,209.6L270.9,211.0L270.5,212.6L270.2,214.2L269.9,215.7L269.5,217.3L269.1,218.9L268.6,220.4L268.3,222.0L268.0,223.5L267.5,225.1L267.4,226.7L267.0,228.2L266.8,229.8L266.0,231.3L265.6,232.9L265.2,234.4L264.9,236.0L264.5,237.6L264.1,239.1L263.7,240.7L263.3,242.2L262.9,243.8L262.3,245.3L262.0,246.9L261.6,248.4L261.3,250.0L260.9,251.6L260.2,253.0L260.0,254.6L259.7,256.2L259.4,257.8L259.2,259.4L258.8,261.0L258.5,262.5L258.4,264.1L258.2,265.7L258.0,267.3L257.7,268.9L257.6,270.5L257.2,272.1L257.0,273.7L256.5,275.2L256.3,276.8L255.8,278.3L255.3,279.9L255.2,281.5L254.9,283.1L254.4,284.6L254.1,286.2L253.9,287.8L253.4,289.3L252.9,290.9L252.9,292.5L252.6,294.1L252.4,295.7L252.0,297.2L252.0,298.8L251.7,300.4L251.2,302.0L251.2,303.6L250.7,305.2L250.4,306.7L250.3,308.3L250.0,309.9L249.5,311.4L249.4,313.1L249.1,314.6L248.8,316.2L248.2,317.7L247.7,319.3L247.4,320.8L247.2,322.4L246.8,324.0L246.4,325.6L246.0,327.1L245.7,328.7L245.4,330.3L245.1,331.8L244.9,333.4L244.6,335.0L244.4,336.6L244.1,338.2L243.8,339.8L243.4,341.3L243.3,342.9L243.0,344.5L242.9,346.1L242.2,347.6L242.1,349.3L241.6,350.8L240.7,352.2L240.0,353.6L239.4,355.1L238.8,356.7L237.4,357.7L236.4,358.9L234.9,359.7L233.3,360.1L232.5,361.7L231.3,362.9L230.0,363.9L228.2,364.0L226.8,364.6L225.4,365.6L223.6,365.2L222.2,366.3L220.3,365.3L218.8,365.6L217.2,366.0L215.8,367.2L214.1,367.1L212.7,367.9L211.2,368.4L209.6,368.7L208.1,369.6L206.5,370.0L204.7,368.9L203.2,369.8L201.6,369.8L200.0,369.5L198.6,371.3L196.9,370.9L195.2,370.5L193.6,370.5L192.1,371.1L190.4,370.3L188.8,370.9L187.3,371.9L185.7,371.8L184.0,370.8L182.4,371.1L180.9,372.6L179.2,370.7L177.6,371.3L176.0,370.9L174.4,372.0L172.8,372.1L171.2,372.6L169.5,370.5L168.0,372.2L166.3,371.3L164.8,372.7L163.2,372.3L161.6,373.5L160.0,372.8L158.3,372.0L156.8,373.4L155.1,372.1L153.6,372.7L152.0,373.6L150.4,373.3L148.8,373.4L147.1,373.2L145.6,373.6L144.0,373.8L142.3,373.6L140.8,374.1L139.2,374.3L137.5,373.7L135.9,373.2L134.4,374.7L132.7,373.9L131.1,374.3L129.5,374.6L127.9,373.6L126.3,374.2" stroke="#84840f"/>
<path d="M126.3,374.2L127.9,373.4L129.5,373.3L131.1,373.9L132.7,372.7L134.3,373.9L135.9,373.4L137.6,374.5L139.2,374.5L140.8,374.7L142.4,374.3L144.0,373.7L145.6,374.3L147.2,374.6L148.8,373.3L150.4,374.0L152.0,373.6L153.6,374.4L155.2,373.0L156.8,373.3L158.4,373.6L160.0,373.5L161.6,372.4L163.2,373.5L164.8,373.2L166.4,373.1L168.0,373.1L169.7,373.3L171.2,372.0L172.9,374.0L174.5,372.5L176.0,371.7L177.7,372.9L179.3,373.8L180.9,372.6L182.5,373.8L184.1,373.7L185.7,372.3L187.3,371.3L188.9,372.0L190.5,373.4L192.1,372.1L193.7,371.7L195.3,371.7L196.9,372.5L198.5,372.5L200.2,373.0L201.8,373.0L203.3,371.8L205.0,372.2L206.6,371.6L208.2,372.3L209.8,371.5L211.4,371.4L213.0,373.4L214.6,372.1L216.2,372.4L217.8,373.5L219.4,372.4L221.0,371.9L222.6,371.9L224.2,371.4L225.9,372.5L227.4,371.6L229.1,372.8L230.6,371.5L232.3,371.4L233.9,371.4L235.5,372.0L237.1,371.7L238.7,372.3L240.3,371.1L241.9,371.6L243.5,372.6L245.1,371.2L246.7,371.6L248.3,372.2L249.9,371.6L251.5,370.8L253.1,369.9L254.8,372.6L256.3,371.3L258.0,371.8L259.5,370.7L261.2,372.1L262.8,371.2L264.4,370.9L266.0,370.3L267.6,371.0L269.2,370.5L270.8,370.6L272.4,369.7L274.0,370.3L275.6,370.7L277.2,369.8L278.8,370.5L280.4,370.8L282.0,370.2L283.6,369.9L285.2,369.9L286.9,370.8L288.4,369.2L290.0,369.9L291.6,369.8L293.3,370.1L294.9,369.9L296.4,369.2L298.1,371.0L299.7,369.9L301.3,368.9L302.9,369.1L304.5,369.7L306.1,369.9L307.7,368.7L309.3,369.9L310.9,368.6L312.5,368.9L314.1,369.8L315.8,370.2L317.3,369.1L318.9,368.9L320.6,369.8L322.1,368.4L323.8,369.1L325.4,369.0L327.0,369.5L328.6,369.0L330.2,368.6L331.8,369.1L333.4,368.0L335.0,369.1L336.6,368.2L338.2,368.0L339.8,368.3L341.4,368.5L343.0,368.8L344.6,368.3L346.2,368.8L347.8,368.9L349.4,368.2L351.0,367.7L352.7,368.8L354.3,368.4L355.9,366.9L357.5,367.6L359.1,368.3L360.7,367.4L362.3,367.8L363.9,367.2L365.5,368.5L367.1,368.4L368.7,368.4L370.3,369.3" stroke="#84840f"/>
<path d="M381.4,370.1L383.0,371.2L384.6,370.2L386.3,369.6L387.9,371.5L389.5,369.7L391.1,369.9L392.7,370.2L394.3,369.2L395.9,370.6L397.5,370.9L399.1,370.4L400.7,370.1L402.3,369.7L403.9,370.3L405.5,367.8L407.1,369.6L408.7,369.8L410.3,368.4L412.0,369.8L413.5,369.4L415.2,369.4L416.8,369.4L418.4,369.6L420.0,369.5L421.5,368.5L423.2,369.0L424.8,368.9L426.4,369.0L428.0,368.6L429.6,369.4L431.2,369.6L432.8,369.6L434.5,369.8L436.0,369.5L437.6,368.2L439.2,368.1L440.8,368.1L442.4,368.6L444.0,368.2L445.7,368.8L447.3,369.1L448.8,367.8L450.5,368.6L452.0,367.7L453.6,367.1L455.2,367.0L456.9,367.5L458.4,366.5L460.1,367.9L461.7,368.4L463.3,366.8L464.9,367.2L466.5,368.2L468.1,367.4L469.7,367.2L471.3,366.9L472.9,367.5L474.5,367.0L476.1,366.1L477.6,365.2L479.2,365.0L480.9,366.9L482.5,366.2L484.2,367.2L485.8,366.5L487.3,365.3L489.0,366.1L490.6,366.5L492.1,365.1L493.7,365.2L495.5,366.3L496.8,364.1L498.4,364.2L500.2,365.1L501.7,364.2L503.0,363.1L504.5,362.5L506.4,363.1L508.0,363.0L509.5,362.4L511.0,361.7L512.7,361.8L514.0,360.7L515.3,359.5L517.4,360.0L517.9,357.9L519.4,357.2L520.5,356.0L521.8,355.0L522.2,353.4L523.2,352.1L523.8,350.6L525.1,349.5L525.9,348.1L526.7,346.7L527.2,345.1L528.1,343.8L528.6,342.3L529.4,340.9L530.3,339.5L531.3,338.2L531.7,336.6L532.6,335.3L533.2,333.8L534.0,332.4L534.6,330.9L535.4,329.5L536.2,328.1L536.5,326.5L537.5,325.1L537.8,323.5L538.6,322.1L539.1,320.6L539.7,319.1L540.3,317.6L541.1,316.2L541.6,314.7L542.2,313.2L542.6,311.6L543.1,310.1L543.9,308.7L543.9,307.0L544.5,305.5L545.0,303.9L545.6,302.5L545.8,300.8L546.4,299.4L547.1,297.9L547.3,296.3L547.9,294.8L548.7,293.4L548.9,291.7L549.4,290.2L550.1,288.7L550.4,287.2L551.1,285.7L551.5,284.1L551.7,282.5L552.4,281.0L552.8,279.5L553.2,277.9L553.9,276.5L554.0,274.8L554.5,273.3L555.0,271.8L555.7,270.3L555.8,268.7L556.4,267.1L556.8,265.6L557.1,264.0L557.7,262.5L558.0,260.9L558.5,259.4L559.0,257.9L559.2,256.3L559.6,254.7L560.0,253.2L560.4,251.6L560.6,250.0L561.0,248.5L561.5,246.9L561.8,245.3L562.6,243.9L562.5,242.2L563.0,240.7L563.1,239.1L563.7,237.5L564.0,236.0L564.4,234.4L565.0,232.9L565.2,231.3L565.5,229.7L566.0,228.2L566.3,226.6L566.7,225.1L567.3,223.5L567.6,222.0L567.9,220.4L568.2,218.8L568.5,217.2L568.6,215.6L569.0,214.0L569.3,212.5L569.7,210.9L570.0,209.3L570.3,207.7L570.4,206.1L571.0,204.6L571.2,203.0L571.4,201.4L571.8,199.9L572.1,198.3L572.4,196.7L572.8,195.2L573.2,193.6L573.5,192.0L573.9,190.5L574.1,188.9L574.5,187.3L575.3,185.8L575.3,184.2L575.9,182.7L576.3,181.1L576.6,179.6L576.9,178.0L577.5,176.5L577.8,174.9L578.1,173.3L578.4,171.7L578.8,170.2L579.1,168.6L579.2,167.0L579.5,165.4L579.7,163.8L579.9,162.2L580.1,160.6L580.3,159.0L580.8,157.5L581.0,155.9L581.5,154.4L581.6,152.7L581.7,151.1L582.2,149.6L582.7,148.1L582.8,146.4L583.1,144.9L583.3,143.3L583.9,141.8L584.1,140.1L584.4,138.6L584.8,137.0L585.0,135.4L585.4,133.9L585.7,132.3L586.2,130.7L586.7,129.2L587.1,127.7L587.3,126.1L587.9,124.5L588.2,123.0L588.4,121.4L589.1,119.9L589.4,118.3L589.9,116.8L590.0,115.1L590.8,113.7L591.2,112.1L591.7,110.6L592.3,109.1L592.5,107.5L593.3,106.1L593.6,104.5L594.1,103.0L594.2,101.3L594.8,99.8L595.8,98.4L596.1,96.9L596.7,95.4L597.1,93.8L597.6,92.3L598.3,90.8L598.7,89.3L599.7,88.0L600.1,86.3L601.1,85.1L601.9,83.7L603.0,82.5L604.2,81.4L604.8,79.7L606.3,79.0L607.4,77.9L608.9,77.2L610.1,76.1L611.4,75.2L613.1,75.1L614.8,74.9L616.2,74.1L617.6,73.3L619.1,72.9L620.3,71.3L622.0,71.3L623.6,70.9L625.1,70.3L626.6,69.8L628.2,69.7L629.8,69.5L631.6,70.0L632.8,68.1L634.3,67.7L636.0,67.7" stroke="#84840f"/>
</g>
<rect x="83.30" y="542.20" width="599.90" height="195.20" fill="none" stroke="#3a3a3a" stroke-width="1.90"/>
<rect x="83.90" y="745.60" width="600.10" height="195.30" fill="none" stroke="#3a3a3a" stroke-width="1.90"/>
<text transform="translate(74.50,597.07) scale(0.960,1.040)" class="tl" text-anchor="end">2.9</text>
<text transform="translate(74.50,656.35) scale(0.960,1.040)" class="tl" text-anchor="end">2.8</text>
<text transform="translate(74.50,715.62) scale(0.960,1.040)" class="tl" text-anchor="end">2.7</text>
<text transform="translate(74.50,798.10) scale(0.960,1.040)" class="tl" text-anchor="end">1.8</text>
<text transform="translate(74.50,873.50) scale(0.960,1.040)" class="tl" text-anchor="end">1.7</text>
<text transform="translate(74.50,948.90) scale(0.960,1.040)" class="tl" text-anchor="end">1.6</text>
<text transform="translate(110.00,969.20) scale(0.960,1.040)" class="tl" text-anchor="middle">100</text>
<text transform="translate(240.40,969.20) scale(0.960,1.040)" class="tl" text-anchor="middle">150</text>
<text transform="translate(370.80,969.20) scale(0.960,1.040)" class="tl" text-anchor="middle">200</text>
<text transform="translate(501.20,969.20) scale(0.960,1.040)" class="tl" text-anchor="middle">250</text>
<text transform="translate(631.60,969.20) scale(0.960,1.040)" class="tl" text-anchor="middle">300</text>
<path d="M83.30,589.47H91.80M83.30,648.75H91.80M83.30,708.02H91.80M83.90,790.50H92.40M83.90,865.90H92.40M110.00,737.40V728.90M110.00,940.90V932.40M240.40,737.40V728.90M240.40,940.90V932.40M370.80,737.40V728.90M370.80,940.90V932.40M501.20,737.40V728.90M501.20,940.90V932.40M631.60,737.40V728.90M631.60,940.90V932.40" stroke="#3a3a3a" stroke-width="1.80" fill="none"/>
<text transform="translate(310.00,999.60) scale(1.000,1.000)" class="al" text-anchor="start">Thickness (nm)</text>
<text transform="translate(20.60,698.70) rotate(-90) scale(1.000,1)" class="al" text-anchor="middle" style="font-size:26.5px;">|</text>
<text transform="translate(20.60,688.10) rotate(-90) scale(1.000,1)" class="al" text-anchor="middle" style="font-size:26.5px;">+</text>
<text transform="translate(20.60,670.30) rotate(-90) scale(1.000,1)" class="al" text-anchor="middle" style="font-size:26.5px;font-style:italic">V</text>
<text transform="translate(30.90,657.50) rotate(-90) scale(1.000,1)" class="al" text-anchor="middle" style="font-size:26.5px;">c</text>
<text transform="translate(20.60,650.00) rotate(-90) scale(1.000,1)" class="al" text-anchor="middle" style="font-size:26.5px;">|</text>
<text transform="translate(20.60,613.55) rotate(-90) scale(1.050,1)" class="al" text-anchor="middle" style="font-size:26.5px;">(V)</text>
<text transform="translate(20.30,897.50) rotate(-90) scale(1.000,1)" class="al" text-anchor="middle" style="font-size:26.5px;">|</text>
<text transform="translate(20.30,890.15) rotate(-90) scale(1.000,1)" class="al" text-anchor="middle" style="font-size:26.5px;">-</text>
<text transform="translate(20.30,876.00) rotate(-90) scale(1.000,1)" class="al" text-anchor="middle" style="font-size:26.5px;font-style:italic">V</text>
<text transform="translate(27.70,862.90) rotate(-90) scale(1.000,1)" class="al" text-anchor="middle" style="font-size:26.5px;">c</text>
<text transform="translate(20.30,851.90) rotate(-90) scale(1.000,1)" class="al" text-anchor="middle" style="font-size:26.5px;">|</text>
<text transform="translate(20.30,823.40) rotate(-90) scale(1.050,1)" class="al" text-anchor="middle" style="font-size:26.5px;">(V)</text>
<path d="M161.90,610.10V672.60M157.70,610.10H166.10M157.70,672.60H166.10" stroke="#ff4d4d" stroke-width="1.3" fill="none"/>
<rect x="151.90" y="631.10" width="20" height="20" fill="#ff0000"/>
<path d="M318.20,597.10V652.80M314.00,597.10H322.40M314.00,652.80H322.40" stroke="#ff4d4d" stroke-width="1.3" fill="none"/>
<rect x="308.20" y="614.60" width="20" height="20" fill="#ff0000"/>
<path d="M474.70,607.90V673.80M470.50,607.90H478.90M470.50,673.80H478.90" stroke="#ff4d4d" stroke-width="1.3" fill="none"/>
<rect x="464.70" y="630.60" width="20" height="20" fill="#ff0000"/>
<path d="M631.30,610.10V667.00M627.10,610.10H635.50M627.10,667.00H635.50" stroke="#ff4d4d" stroke-width="1.3" fill="none"/>
<rect x="621.30" y="628.60" width="20" height="20" fill="#ff0000"/>
<path d="M162.10,795.90V882.20M157.90,795.90H166.30M157.90,882.20H166.30" stroke="#4d4dff" stroke-width="1.3" fill="none"/>
<rect x="152.10" y="829.00" width="20" height="20" fill="#0000ff"/>
<path d="M318.50,812.20V887.10M314.30,812.20H322.70M314.30,887.10H322.70" stroke="#4d4dff" stroke-width="1.3" fill="none"/>
<rect x="308.50" y="839.80" width="20" height="20" fill="#0000ff"/>
<path d="M474.90,757.60V896.80M470.70,757.60H479.10M470.70,896.80H479.10" stroke="#4d4dff" stroke-width="1.3" fill="none"/>
<rect x="464.90" y="817.00" width="20" height="20" fill="#0000ff"/>
<path d="M631.50,776.00V898.30M627.30,776.00H635.70M627.30,898.30H635.70" stroke="#4d4dff" stroke-width="1.3" fill="none"/>
<rect x="621.50" y="827.10" width="20" height="20" fill="#0000ff"/>
</svg>
</body></html>
